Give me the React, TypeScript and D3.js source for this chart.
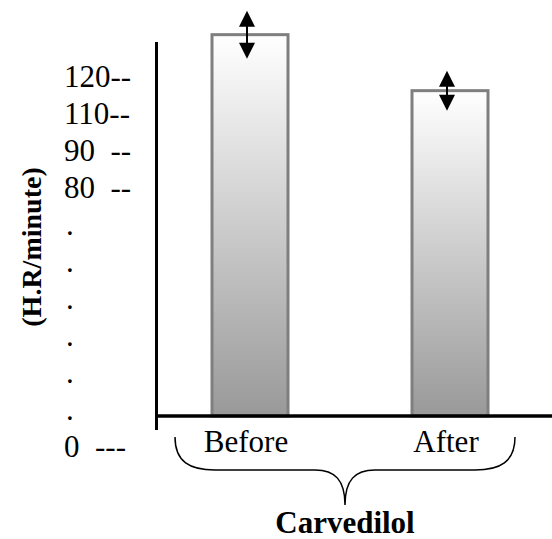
import React, { useEffect, useRef } from 'react'
import * as d3 from 'd3'

const categories = ['Before', 'After']
const heartRate = [143, 122]
const errors = [9, 7.5]
const tickLabels = ['120--', '110--', '90  --', '80  --', '.', '.', '.', '.', '.', '.', '0  ---']
const groupLabel = 'Carvedilol'
const yTitle = '(H.R/minute)'

const width = 552
const height = 539

const App: React.FC = () => {
    const svgRef = useRef<SVGSVGElement | null>(null)

    useEffect(() => {
        const svg = d3.select(svgRef.current)
        svg.selectAll('*').remove()

        const font = '"Liberation Serif", "Times New Roman", serif'

        const xScale = d3
            .scaleBand<string>()
            .domain(categories)
            .range([150, 550])
            .paddingInner(0.62)
            .paddingOuter(0.31)

        const yScale = d3.scaleLinear().domain([0, 150]).range([416, 16])

        // the printed tick labels are not on the value scale, they are just stacked lines
        const tickScale = d3
            .scalePoint<number>()
            .domain(d3.range(tickLabels.length))
            .range([87, 457])

        const defs = svg.append('defs')
        const grad = defs
            .append('linearGradient')
            .attr('id', 'barGrad')
            .attr('x1', 0)
            .attr('y1', 0)
            .attr('x2', 0)
            .attr('y2', 1)
        grad.append('stop').attr('offset', '0%').attr('stop-color', '#ffffff')
        grad.append('stop').attr('offset', '100%').attr('stop-color', '#999999')

        // bars
        svg.selectAll('rect.bar')
            .data(categories)
            .join('rect')
            .attr('class', 'bar')
            .attr('x', (d) => xScale(d)!)
            .attr('y', (_, i) => yScale(heartRate[i]))
            .attr('width', xScale.bandwidth())
            .attr('height', (_, i) => yScale(0) - yScale(heartRate[i]))
            .attr('fill', 'url(#barGrad)')
            .attr('stroke', '#7f7f7f')
            .attr('stroke-width', 3)

        // double headed error arrows
        const arrows = svg
            .selectAll('g.err')
            .data(categories)
            .join('g')
            .attr('class', 'err')
            .attr('transform', (d) => `translate(${xScale(d)! + xScale.bandwidth() / 2 - 3},0)`)

        arrows
            .append('line')
            .attr('y1', (_, i) => yScale(heartRate[i] + errors[i]) + 4)
            .attr('y2', (_, i) => yScale(heartRate[i] - errors[i]) - 4)
            .attr('stroke', '#000')
            .attr('stroke-width', 2)
        arrows
            .append('path')
            .attr('d', (_, i) => {
                const t = yScale(heartRate[i] + errors[i])
                return `M0,${t}L-8,${t + 16}L8,${t + 16}Z`
            })
            .attr('fill', '#000')
        arrows
            .append('path')
            .attr('d', (_, i) => {
                const b = yScale(heartRate[i] - errors[i])
                return `M0,${b}L-8,${b - 16}L8,${b - 16}Z`
            })
            .attr('fill', '#000')

        // axes
        svg.append('line')
            .attr('x1', 156.5)
            .attr('x2', 156.5)
            .attr('y1', 42)
            .attr('y2', 430)
            .attr('stroke', '#000')
            .attr('stroke-width', 3)
        svg.append('line')
            .attr('x1', 155)
            .attr('x2', width)
            .attr('y1', yScale(0))
            .attr('y2', yScale(0))
            .attr('stroke', '#000')
            .attr('stroke-width', 3.5)

        // y tick labels
        svg.selectAll('text.tick')
            .data(tickLabels)
            .join('text')
            .attr('class', 'tick')
            .attr('x', (d) => (d === '.' ? 66 : 64))
            .attr('y', (_, i) => tickScale(i)!)
            .attr('font-family', font)
            .attr('font-size', 31)
            .style('white-space', 'pre')
            .text((d) => d)

        // category labels
        svg.selectAll('text.cat')
            .data(categories)
            .join('text')
            .attr('class', 'cat')
            .attr('x', (d) => xScale(d)! + xScale.bandwidth() / 2 - 4)
            .attr('y', 452)
            .attr('text-anchor', 'middle')
            .attr('font-family', font)
            .attr('font-size', 31)
            .text((d) => d)

        // brace under the categories
        const left = xScale(categories[0])! - 37
        const right = xScale(categories[1])! + xScale.bandwidth() + 27
        const mid = (left + right) / 2
        const top = 437
        const bar = 470
        const tip = 505
        svg.append('path')
            .attr(
                'd',
                `M${left},${top}C${left},${bar - 8} ${left + 15},${bar} ${left + 40},${bar}` +
                    `L${mid - 30},${bar}C${mid - 10},${bar} ${mid},${bar + 10} ${mid},${tip}` +
                    `C${mid},${bar + 10} ${mid + 10},${bar} ${mid + 30},${bar}` +
                    `L${right - 40},${bar}C${right - 15},${bar} ${right},${bar - 8} ${right},${top}`
            )
            .attr('fill', 'none')
            .attr('stroke', '#000')
            .attr('stroke-width', 1.5)

        svg.append('text')
            .attr('x', mid)
            .attr('y', 533)
            .attr('text-anchor', 'middle')
            .attr('font-family', font)
            .attr('font-weight', 'bold')
            .attr('font-size', 31)
            .text(groupLabel)

        svg.append('text')
            .attr('transform', `translate(41,247) rotate(-90)`)
            .attr('text-anchor', 'middle')
            .attr('font-family', font)
            .attr('font-weight', 'bold')
            .attr('font-size', 28)
            .text(yTitle)
    }, [])

    return (
        <svg
            ref={svgRef}
            width={width}
            height={height}
            style={{ position: 'absolute', left: 0, top: 0, background: '#fff' }}
        />
    )
}

export default App
